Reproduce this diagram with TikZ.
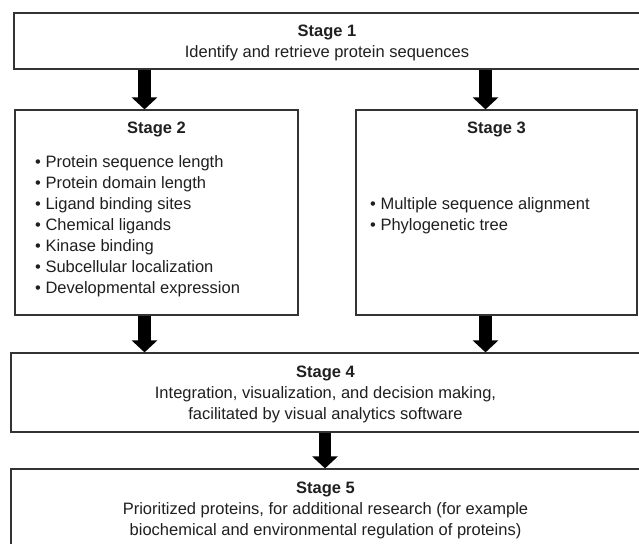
\documentclass[tikz,border=0pt]{standalone}
\usepackage{fontspec}
\setmainfont{Liberation Sans}
\usetikzlibrary{arrows.meta,fit}
\begin{document}
\begin{tikzpicture}[x=1pt,y=-1pt,
  stagebox/.style={draw=black!80, line width=1.2pt, inner sep=0pt, fill=none},
  txt/.style={inner sep=0pt, text=black!88, font=\fontsize{16.5}{21}\selectfont},
  title/.style={txt, font=\fontsize{16.5}{21}\selectfont\bfseries},
  blockarrow/.style={line width=12.5pt, black, -{Triangle[width=25pt,length=12pt]}}]
\useasboundingbox (0,0) rectangle (639,543);
\clip (0,0) rectangle (639,543);
% boxes
\node[stagebox, fit={(14,13) (642,69)}] (s1) {};
\node[stagebox, fit={(15,110) (298,315)}] (s2) {};
\node[stagebox, fit={(356,110) (637,315)}] (s3) {};
\node[stagebox, fit={(11,353) (642,432)}] (s4) {};
\node[stagebox, fit={(11,469) (642,570)}] (s5) {};
% texts
\node[title, anchor=base] (t1a) at (327,37) {Stage 1};
\node[txt, anchor=base] (t1b) at (327,58) {Identify and retrieve protein sequences};
\node[title, anchor=base] (t2a) at (156.5,133) {Stage 2};
\node[txt, anchor=base west] (b21) at (35,167) {• Protein sequence length};
\node[txt, anchor=base west] (b22) at (35,188) {• Protein domain length};
\node[txt, anchor=base west] (b23) at (35,209) {• Ligand binding sites};
\node[txt, anchor=base west] (b24) at (35,230) {• Chemical ligands};
\node[txt, anchor=base west] (b25) at (35,251) {• Kinase binding};
\node[txt, anchor=base west] (b26) at (35,272) {• Subcellular localization};
\node[txt, anchor=base west] (b27) at (35,293) {• Developmental expression};
\node[title, anchor=base] (t3a) at (496.5,133) {Stage 3};
\node[txt, anchor=base west] (b31) at (370,209) {• Multiple sequence alignment};
\node[txt, anchor=base west] (b32) at (370,230) {• Phylogenetic tree};
\node[title, anchor=base] (t4a) at (325.5,377) {Stage 4};
\node[txt, anchor=base] (t4b) at (325.5,398) {Integration, visualization, and decision making,};
\node[txt, anchor=base] (t4c) at (325.5,419) {facilitated by visual analytics software};
\node[title, anchor=base] (t5a) at (325.5,493) {Stage 5};
\node[txt, anchor=base] (t5b) at (325.5,514) {Prioritized proteins, for additional research (for example};
\node[txt, anchor=base] (t5c) at (325.5,535) {biochemical and environmental regulation of proteins)};
% arrows
\coordinate (xl) at (144.5,0);
\coordinate (xr) at (485.5,0);
\coordinate (xm) at (325,0);
\draw[blockarrow] (s1.south -| xl) -- (s2.north -| xl);
\draw[blockarrow] (s1.south -| xr) -- (s3.north -| xr);
\draw[blockarrow] (s2.south -| xl) -- (s4.north -| xl);
\draw[blockarrow] (s3.south -| xr) -- (s4.north -| xr);
\draw[blockarrow] (s4.south -| xm) -- (s5.north -| xm);
\end{tikzpicture}
\end{document}
